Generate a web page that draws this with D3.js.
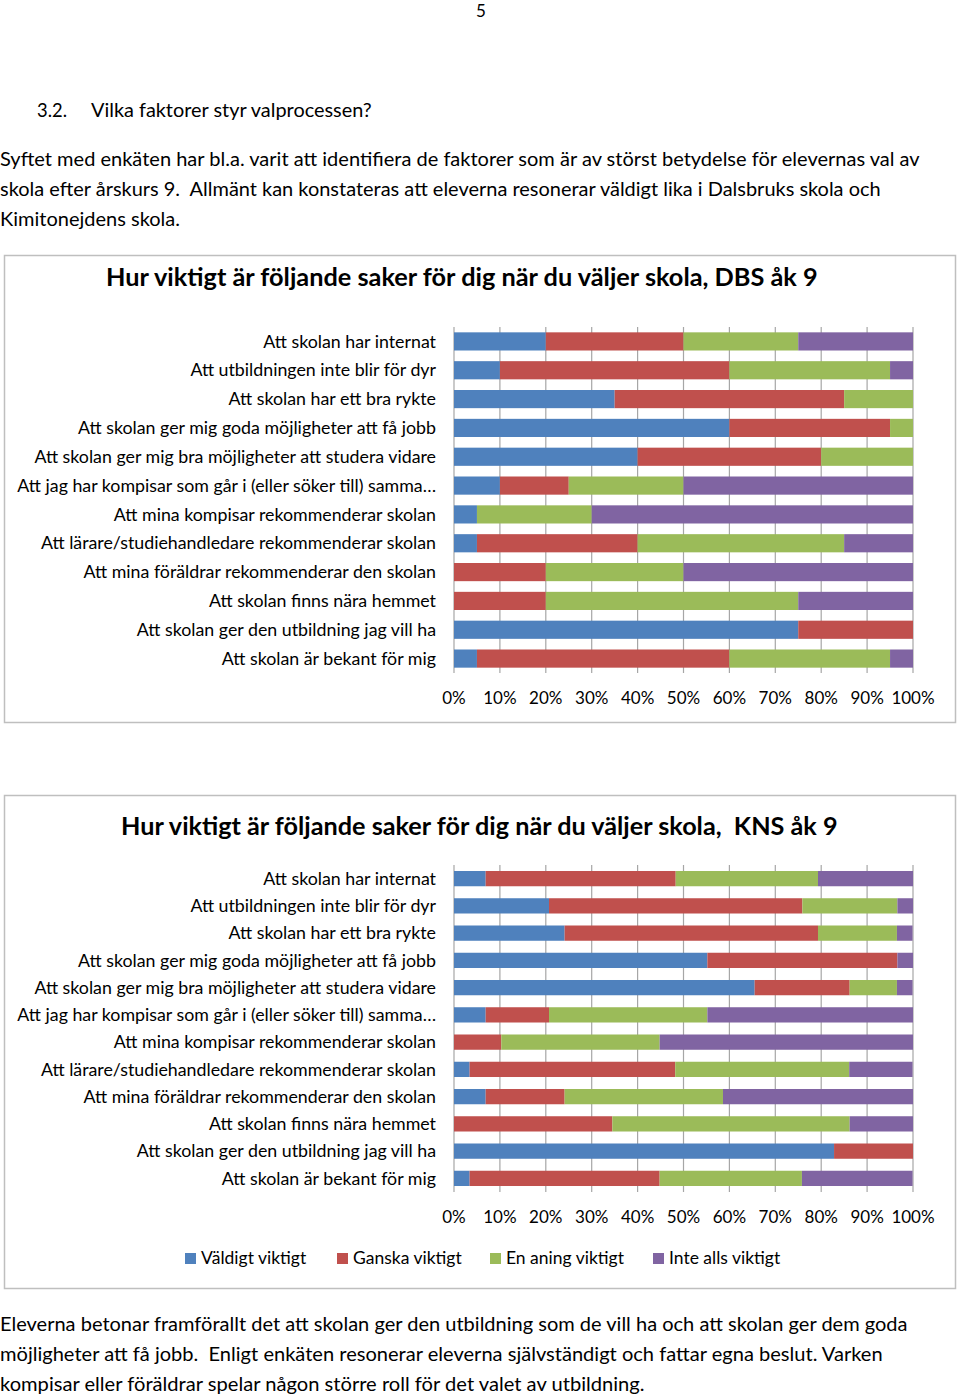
<!DOCTYPE html>
<html><head><meta charset="utf-8">
<script src="https://cdn.jsdelivr.net/npm/d3@7"></script>
<style>body{margin:0;background:#fff}svg{display:block}text{white-space:pre}</style>
</head><body>
<svg id="c" width="960" height="1399"></svg>
<script>
const categories = [
  "Att skolan har internat",
  "Att utbildningen inte blir för dyr",
  "Att skolan har ett bra rykte",
  "Att skolan ger mig goda möjligheter att få jobb",
  "Att skolan ger mig bra möjligheter att studera vidare",
  "Att jag har kompisar som går i (eller söker till) samma…",
  "Att mina kompisar rekommenderar skolan",
  "Att lärare/studiehandledare rekommenderar skolan",
  "Att mina föräldrar rekommenderar den skolan",
  "Att skolan finns nära hemmet",
  "Att skolan ger den utbildning jag vill ha",
  "Att skolan är bekant för mig"
];
const seriesNames = ["Väldigt viktigt", "Ganska viktigt", "En aning viktigt", "Inte alls viktigt"];
const seriesColors = ["#4F81BD", "#C0504D", "#9BBB59", "#8064A2"];
const tickLabels = ["0%","10%","20%","30%","40%","50%","60%","70%","80%","90%","100%"];

// DBS åk 9 (percent)
const dbsVaeldigt = [20, 10, 35, 60, 40, 10, 5, 5, 0, 0, 75, 5];
const dbsGanska   = [30, 50, 50, 35, 40, 15, 0, 35, 20, 20, 25, 55];
const dbsAning    = [25, 35, 15, 5, 20, 25, 25, 45, 30, 55, 0, 35];
const dbsInte     = [25, 5, 0, 0, 0, 50, 70, 15, 50, 25, 0, 5];

// KNS åk 9 (percent)
const knsVaeldigt = [6.9, 20.7, 24.1, 55.2, 65.5, 6.9, 0, 3.4, 6.9, 0, 82.8, 3.4];
const knsGanska   = [41.4, 55.2, 55.2, 41.4, 20.7, 13.8, 10.3, 44.8, 17.2, 34.5, 17.2, 41.4];
const knsAning    = [31.0, 20.7, 17.2, 0, 10.3, 34.5, 34.5, 37.9, 34.5, 51.7, 0, 31.0];
const knsInte     = [20.7, 3.4, 3.4, 3.4, 3.4, 44.8, 55.2, 13.8, 41.4, 13.8, 0, 24.1];

const FONT = "Lato, 'Open Sans', sans-serif";
const svg = d3.select("#c");
svg.append("rect").attr("width",960).attr("height",1399).attr("fill","#fff");

// text fitted to a target width by adjusting font size
function fitText(x, y, str, width, opts={}) {
  const t = svg.append("text").attr("x", x).attr("y", y)
    .attr("font-family", FONT).attr("font-size", 20)
    .attr("font-weight", opts.bold ? "bold" : "normal")
    .attr("fill", opts.fill || "#000").text(str);
  const w = t.node().getComputedTextLength();
  t.attr("font-size", 20 * width / w);
  return t;
}

svg.append("text").attr("x",481).attr("y",17).attr("text-anchor","middle")
  .attr("font-family",FONT).attr("font-size",17).text("5");
fitText(37, 117, "3.2.", 30);
fitText(91, 117, "Vilka faktorer styr valprocessen?", 281);
fitText(0, 166, "Syftet med enkäten har bl.a. varit att identifiera de faktorer som är av störst betydelse för elevernas val av", 920);
fitText(0, 196, "skola efter årskurs 9.  Allmänt kan konstateras att eleverna resonerar väldigt lika i Dalsbruks skola och", 881);
fitText(0, 226, "Kimitonejdens skola.", 180);

fitText(0, 1331, "Eleverna betonar framförallt det att skolan ger den utbildning som de vill ha och att skolan ger dem goda", 908);
fitText(0, 1361, "möjligheter att få jobb.  Enligt enkäten resonerar eleverna självständigt och fattar egna beslut. Varken", 883);
fitText(0, 1391, "kompisar eller föräldrar spelar någon större roll för det valet av utbildning.", 645);

function drawChart(cfg) {
  const g = svg.append("g");
  g.append("rect").attr("x", 4.5).attr("y", cfg.frameTop + 0.5)
    .attr("width", 951).attr("height", cfg.frameBottom - cfg.frameTop)
    .attr("fill", "#fff").attr("stroke", "#bfbfbf").attr("stroke-width", 1.5);

  fitText(cfg.titleX, cfg.titleY, cfg.title, cfg.titleW, {bold:true});

  const x = d3.scaleLinear().domain([0, 100]).range([454, 913]);
  const y = d3.scaleBand().domain(categories).range([cfg.plotTop, cfg.plotBottom]).paddingInner(cfg.pad).paddingOuter(cfg.pad/2);

  // gridlines
  g.append("g").selectAll("line").data(d3.range(0, 101, 10)).join("line")
    .attr("x1", d => x(d)).attr("x2", d => x(d))
    .attr("y1", cfg.plotTop).attr("y2", cfg.plotBottom)
    .attr("stroke", "#a6a6a6").attr("stroke-width", 1.2);

  const stackData = categories.map((c, i) => { const o = {cat: c}; cfg.series.forEach((s, k) => o["s"+k] = s[i]); return o; });
  const stacked = d3.stack().keys(["s0","s1","s2","s3"])(stackData);
  g.append("g").selectAll("g").data(stacked).join("g")
    .attr("fill", (d, i) => seriesColors[i])
    .selectAll("rect").data(d => d).join("rect")
    .attr("x", d => x(d[0])).attr("width", d => Math.max(0, x(d[1]) - x(d[0])))
    .attr("y", d => y(d.data.cat)).attr("height", y.bandwidth());

  // category labels
  g.append("g").selectAll("text").data(categories).join("text")
    .attr("x", 436).attr("y", d => y(d) + y.bandwidth()/2).attr("dy", "0.35em")
    .attr("text-anchor", "end").attr("font-family", FONT).attr("font-size", cfg.labelSize)
    .attr("fill", "#000").text(d => d);

  // x axis tick labels
  g.append("g").selectAll("text").data(tickLabels).join("text")
    .attr("x", (d, i) => x(i*10)).attr("y", cfg.tickY).attr("text-anchor", "middle")
    .attr("font-family", FONT).attr("font-size", 17).attr("fill", "#000").text(d => d);
}

drawChart({
  frameTop: 255, frameBottom: 722,
  title: "Hur viktigt är följande saker för dig när du väljer skola, DBS åk 9",
  titleX: 106, titleY: 286, titleW: 712,
  plotTop: 327, plotBottom: 673, pad: 0.37,
  labelSize: 17.8, tickY: 704,
  series: [dbsVaeldigt, dbsGanska, dbsAning, dbsInte]
});
drawChart({
  frameTop: 795, frameBottom: 1288,
  title: "Hur viktigt är följande saker för dig när du väljer skola,  KNS åk 9",
  titleX: 121, titleY: 835, titleW: 717,
  plotTop: 865, plotBottom: 1192, pad: 0.44,
  labelSize: 17.8, tickY: 1223,
  series: [knsVaeldigt, knsGanska, knsAning, knsInte]
});

// legend
const legendX = [185, 337, 490, 653];
const lg = svg.append("g").selectAll("g").data(seriesNames).join("g")
  .attr("transform", (d, i) => `translate(${legendX[i]},1258)`);
lg.append("rect").attr("x", 0).attr("y", -5).attr("width", 11).attr("height", 11)
  .attr("fill", (d, i) => seriesColors[i]);
lg.append("text").attr("x", 16).attr("y", 0).attr("dy", "0.35em")
  .attr("font-family", FONT).attr("font-size", 17.5).text(d => d);
</script>
</body></html>
